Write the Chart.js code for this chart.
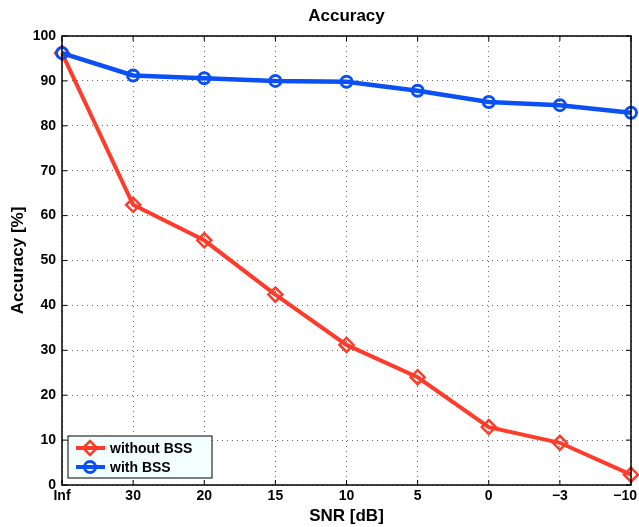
<!DOCTYPE html>
<html lang="en">
<head>
  <meta charset="UTF-8">
  <title>Accuracy</title>
  <style>
    html, body { margin: 0; padding: 0; background: #fff; }
    #wrap { width: 639px; height: 527px; }
  </style>
</head>
<body>
  <div id="wrap"><canvas id="accChart"></canvas></div>

  <script src="https://cdn.jsdelivr.net/npm/chart.js"></script>
  <script>
    // data
    const snrLabels = ['Inf', '30', '20', '15', '10', '5', '0', '\u22123', '\u221210'];
    const withoutBss = [96.2, 62.4, 54.5, 42.4, 31.2, 24.0, 12.9, 9.4, 2.3];
    const withBss = [96.2, 91.2, 90.6, 90.0, 89.8, 87.8, 85.3, 84.6, 82.9];
    const yTicks = [0, 10, 20, 30, 40, 50, 60, 70, 80, 90, 100];

    const red = '#ff3b2b';
    const blue = '#0a50f5';
    const font = 'Liberation Sans, Arial, sans-serif';

    // box round the plot, inward ticks, x labels, title and the legend, matlab style
    const framePlugin = {
      id: 'frame',
      afterDraw(chart) {
        const ctx = chart.ctx;
        const a = chart.chartArea;
        const xs = chart.scales.x, ys = chart.scales.y;
        ctx.save();
        ctx.strokeStyle = '#000';
        ctx.lineWidth = 1.5;
        ctx.strokeRect(a.left, a.top, a.right - a.left, a.bottom - a.top);
        ctx.lineWidth = 1;
        ctx.beginPath();
        yTicks.forEach(v => {
          const y = ys.getPixelForValue(v);
          ctx.moveTo(a.left, y); ctx.lineTo(a.left + 5, y);
          ctx.moveTo(a.right, y); ctx.lineTo(a.right - 5, y);
        });
        snrLabels.forEach((l, i) => {
          const x = xs.getPixelForValue(i);
          ctx.moveTo(x, a.bottom); ctx.lineTo(x, a.bottom - 5);
          ctx.moveTo(x, a.top); ctx.lineTo(x, a.top + 5);
        });
        ctx.stroke();

        // x tick labels, last one kept inside the canvas
        ctx.fillStyle = '#000';
        ctx.font = 'bold 14px ' + font;
        ctx.textBaseline = 'middle';
        snrLabels.forEach((l, i) => {
          const x = xs.getPixelForValue(i);
          if (i === snrLabels.length - 1) {
            ctx.textAlign = 'right';
            ctx.fillText(l, 637, a.bottom + 11);
          } else {
            ctx.textAlign = 'center';
            ctx.fillText(l, x, a.bottom + 11);
          }
        });

        // title over the middle of the plot
        ctx.font = 'bold 17px ' + font;
        ctx.textAlign = 'center';
        ctx.fillText('Accuracy', (a.left + a.right) / 2, 16);

        // legend
        const lx = a.left + 6, ly = a.bottom - 49, lw = 144, lh = 42;
        ctx.fillStyle = '#f3fffe';
        ctx.fillRect(lx, ly, lw, lh);
        ctx.strokeStyle = '#000';
        ctx.lineWidth = 1;
        ctx.strokeRect(lx, ly, lw, lh);
        const items = [
          { text: 'without BSS', color: red, style: 'rectRot', r: 7, bw: 2.5 },
          { text: 'with BSS', color: blue, style: 'circle', r: 5.5, bw: 3 }
        ];
        ctx.font = 'bold 14px ' + font;
        ctx.textAlign = 'left';
        items.forEach((it, i) => {
          const y = ly + 12 + i * 19;
          ctx.strokeStyle = it.color;
          ctx.lineWidth = 4;
          ctx.beginPath();
          ctx.moveTo(lx + 8, y); ctx.lineTo(lx + 37, y);
          ctx.stroke();
          ctx.fillStyle = 'rgba(0,0,0,0)';
          ctx.lineWidth = it.bw;
          Chart.helpers.drawPoint(ctx, {
            pointStyle: it.style, radius: it.r, borderWidth: it.bw, rotation: 0
          }, lx + 22, y);
          ctx.fillStyle = '#000';
          ctx.fillText(it.text, lx + 42, y + 1);
        });
        ctx.restore();
      }
    };

    const ctx = document.getElementById('accChart').getContext('2d');
    new Chart(ctx, {
      type: 'line',
      data: {
        labels: snrLabels,
        datasets: [{
          label: 'with BSS',
          data: withBss,
          borderColor: blue,
          backgroundColor: 'transparent',
          borderWidth: 4.5,
          pointStyle: 'circle',
          pointRadius: 5.5,
          pointBorderWidth: 3,
          pointBorderColor: blue,
          pointBackgroundColor: 'transparent'
        }, {
          label: 'without BSS',
          data: withoutBss,
          borderColor: red,
          backgroundColor: 'transparent',
          borderWidth: 4,
          pointStyle: 'rectRot',
          pointRadius: 7,
          pointBorderWidth: 2.5,
          pointBorderColor: red,
          pointBackgroundColor: 'transparent'
        }]
      },
      options: {
        responsive: true,
        maintainAspectRatio: false,
        animation: false,
        layout: { autoPadding: false, padding: { top: 36, right: 8, bottom: 0, left: 0 } },
        plugins: {
          legend: { display: false },
          tooltip: { enabled: false },
          title: { display: false }
        },
        scales: {
          x: {
            offset: false,
            grid: { color: '#666', drawTicks: false, lineWidth: 1 },
            border: { display: false, dash: [1, 4] },
            ticks: { display: false, autoSkip: false },
            title: { display: true, text: 'SNR [dB]', color: '#000', font: { family: font, size: 17, weight: 'bold' }, padding: { top: 0, bottom: 0 } },
            afterFit(scale) {
              scale.height = 42;
              scale.paddingLeft = 0;
              scale.paddingRight = 0;
            }
          },
          y: {
            min: 0,
            max: 100,
            afterBuildTicks(scale) { scale.ticks = yTicks.map(v => ({ value: v })); },
            grid: { color: '#666', drawTicks: false, lineWidth: 1 },
            border: { display: false, dash: [1, 4] },
            ticks: { color: '#000', font: { family: font, size: 14, weight: 'bold' }, padding: 6 },
            title: { display: true, text: 'Accuracy [%]', color: '#000', font: { family: font, size: 17, weight: 'bold' }, padding: { top: 8, bottom: 0 } },
            afterFit(scale) {
              scale.width = 62;
              scale.paddingTop = 0;
              scale.paddingBottom = 0;
            }
          }
        }
      },
      plugins: [framePlugin]
    });
  </script>
</body>
</html>
